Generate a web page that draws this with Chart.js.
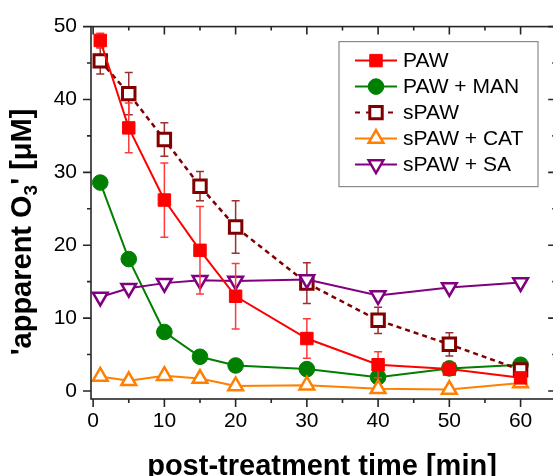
<!DOCTYPE html>
<html>
<head>
<meta charset="utf-8">
<script src="https://cdn.jsdelivr.net/npm/chart.js@4"></script>
<style>
html,body{margin:0;padding:0;background:#fff;overflow:hidden;}
canvas{display:block;}
</style>
</head>
<body>
<canvas id="c" width="568" height="476"></canvas>
<script>
// ---- data ----
const times   = [1, 5, 10, 15, 20, 30, 40, 50, 60];
const paw     = [48.1, 36.1, 26.2, 19.3, 13.0, 7.2, 3.6, 3.0, 1.8];
const pawErr  = [1.0, 3.4, 5.1, 6.0, 4.5, 2.7, 1.8, 0.5, 0.7];
const pawMan  = [28.6, 18.1, 8.1, 4.7, 3.5, 3.0, 1.9, 3.1, 3.6];
const spaw    = [45.3, 40.8, 34.5, 28.1, 22.5, 14.8, 9.7, 6.4, 2.9];
const spawErr = [1.8, 2.9, 2.3, 2.0, 3.6, 2.8, 1.8, 1.6, 0.6];
const spawCat = [2.0, 1.4, 2.1, 1.7, 0.7, 0.8, 0.3, 0.2, 1.1];
const spawSa  = [12.9, 14.1, 14.8, 15.2, 15.1, 15.3, 13.1, 14.2, 14.9];

const xTicks = [0, 10, 20, 30, 40, 50, 60];
const yTicks = [0, 10, 20, 30, 40, 50];

const FONT = "'Liberation Sans', Arial, sans-serif";

const pts = arr => times.map((t,i)=>({x:t, y:arr[i]}));

// error bars per dataset index
const errBars = {
    0: {values: pawErr, color: '#ff3a3a'},
    2: {values: spawErr, color: '#9c3030'}
};

function marker(ctx, style, x, y, r, rot){
    ctx.beginPath();
    if(style==='rect'){
        const s = r*Math.SQRT1_2;
        ctx.rect(x-s, y-s, 2*s, 2*s);
    } else if(style==='circle'){
        ctx.arc(x, y, r, 0, Math.PI*2);
    } else {
        let a = (rot||0)*Math.PI/180;
        for(let k=0;k<3;k++){
            const px = x + Math.sin(a)*r, py = y - Math.cos(a)*r;
            k ? ctx.lineTo(px,py) : ctx.moveTo(px,py);
            a += Math.PI*2/3;
        }
        ctx.closePath();
    }
}

const decor = {
    id: 'decor',
    beforeDatasetDraw(chart, args){
        const eb = errBars[args.index];
        if(!eb) return;
        const ds = chart.data.datasets[args.index];
        const xs = chart.scales.x, ys = chart.scales.y, ctx = chart.ctx;
        ctx.save();
        ctx.strokeStyle = eb.color;
        ctx.lineWidth = 1.5;
        ds.data.forEach((p,i)=>{
            const px = xs.getPixelForValue(p.x);
            const top = ys.getPixelForValue(p.y + eb.values[i]);
            const bot = ys.getPixelForValue(p.y - eb.values[i]);
            ctx.beginPath();
            ctx.moveTo(px, top); ctx.lineTo(px, bot);
            ctx.moveTo(px-4, top); ctx.lineTo(px+4, top);
            ctx.moveTo(px-4, bot); ctx.lineTo(px+4, bot);
            ctx.stroke();
        });
        ctx.restore();
    },
    afterDraw(chart){
        const ctx = chart.ctx, ca = chart.chartArea;
        const xs = chart.scales.x, ys = chart.scales.y;
        ctx.save();
        // frame
        ctx.strokeStyle = '#262626';
        ctx.lineWidth = 1.6;
        ctx.strokeRect(ca.left, ca.top, ca.right-ca.left, ca.bottom-ca.top);
        // ticks: out on left/bottom, in on top/right
        ctx.beginPath();
        const xMinor = xTicks.slice(0,-1).map(v=>v+5);
        const yMinor = yTicks.slice(0,-1).map(v=>v+5);
        const xt = (v,len)=>{
            const px = xs.getPixelForValue(v);
            ctx.moveTo(px, ca.bottom); ctx.lineTo(px, ca.bottom+len);
            ctx.moveTo(px, ca.top); ctx.lineTo(px, ca.top+len);
        };
        const yt = (v,len)=>{
            const py = ys.getPixelForValue(v);
            ctx.moveTo(ca.left, py); ctx.lineTo(ca.left-len, py);
            ctx.moveTo(ca.right, py); ctx.lineTo(ca.right-len, py);
        };
        xTicks.forEach(v=>xt(v,8)); xMinor.forEach(v=>xt(v,4));
        yTicks.forEach(v=>yt(v,8)); yMinor.forEach(v=>yt(v,4));
        ctx.stroke();

        // legend
        const lx = 339, ly = ca.top+15;
        ctx.fillStyle = '#fff';
        ctx.fillRect(lx, ly, 199, 145);
        ctx.strokeStyle = '#8a8a8a';
        ctx.lineWidth = 1.2;
        ctx.strokeRect(lx, ly, 199, 145);
        chart.data.datasets.forEach((ds,i)=>{
            const y = ly + 19 + i*26;
            ctx.strokeStyle = ds.borderColor;
            ctx.lineWidth = 2;
            ctx.setLineDash(ds.borderDash ? [5,6] : []);
            ctx.beginPath(); ctx.moveTo(lx+16, y); ctx.lineTo(lx+58, y); ctx.stroke();
            ctx.setLineDash([]);
            marker(ctx, ds.pointStyle, lx+37, y, ds.pointRadius, ds.pointRotation);
            ctx.fillStyle = ds.pointBackgroundColor;
            ctx.fill();
            ctx.lineWidth = ds.pointBorderWidth;
            ctx.stroke();
            ctx.fillStyle = '#000';
            ctx.font = '21px ' + FONT;
            ctx.textAlign = 'left';
            ctx.textBaseline = 'middle';
            ctx.fillText(ds.label, lx+64, y+1);
        });

        // axis titles
        ctx.fillStyle = '#000';
        ctx.textBaseline = 'alphabetic';
        ctx.textAlign = 'left';
        ctx.font = 'bold 29px ' + FONT;
        const xt1 = 'post-treatment time [min]';
        ctx.fillText(xt1, 322 - ctx.measureText(xt1).width/2, 475);

        ctx.translate(31, 232);
        ctx.rotate(-Math.PI/2);
        const big = 'bold 29px ' + FONT, small = 'bold 19px ' + FONT;
        const a = "'apparent O", b = '3', c = "' [\u03bcM]";
        ctx.font = big; const wa = ctx.measureText(a).width, wc = ctx.measureText(c).width;
        ctx.font = small; const wb = ctx.measureText(b).width;
        let x0 = -(wa+wb+wc)/2;
        ctx.font = big; ctx.fillText(a, x0, 0);
        ctx.font = small; ctx.fillText(b, x0+wa, 6);
        ctx.font = big; ctx.fillText(c, x0+wa+wb, 0);
        ctx.restore();
    }
};

new Chart(document.getElementById('c'), {
    type: 'line',
    data: {
        datasets: [
            {label:'PAW', data:pts(paw), borderColor:'#ff0000', backgroundColor:'#ff0000',
             pointBackgroundColor:'#ff0000', pointStyle:'rect', pointRadius:8.8, pointBorderWidth:1, borderWidth:2, order:0},
            {label:'PAW + MAN', data:pts(pawMan), borderColor:'#008000', backgroundColor:'#008000',
             pointBackgroundColor:'#008000', pointStyle:'circle', pointRadius:7.8, pointBorderWidth:1, borderWidth:2, order:4},
            {label:'sPAW', data:pts(spaw), borderColor:'#800000', backgroundColor:'#fff', borderDash:[5,4],
             pointBackgroundColor:'#fff', pointStyle:'rect', pointRadius:8.8, pointBorderWidth:3, borderWidth:2.5, order:3},
            {label:'sPAW + CAT', data:pts(spawCat), borderColor:'#ff8000', backgroundColor:'#fff',
             pointBackgroundColor:'#fff', pointStyle:'triangle', pointRadius:8.5, pointBorderWidth:2.5, borderWidth:2, order:2},
            {label:'sPAW + SA', data:pts(spawSa), borderColor:'#800080', backgroundColor:'#fff',
             pointBackgroundColor:'#fff', pointStyle:'triangle', pointRotation:180, pointRadius:8.5, pointBorderWidth:2.5, borderWidth:2, order:1}
        ]
    },
    options: {
        responsive: false,
        animation: false,
        devicePixelRatio: 1,
        layout: {padding: {left:0, top:25, right:3, bottom:0}},
        plugins: {legend:{display:false}, tooltip:{enabled:false}},
        elements: {line:{tension:0}},
        scales: {
            x: {
                type: 'linear', min: -0.3, max: 65,
                grid: {display:false, drawTicks:false},
                border: {display:false},
                afterBuildTicks: s => { s.ticks = xTicks.map(v=>({value:v})); },
                afterFit: s => { s.height = 77; },
                ticks: {color:'#000', font:{family:FONT, size:21}, padding:10, maxRotation:0}
            },
            y: {
                type: 'linear', min: -1.1, max: 50,
                grid: {display:false, drawTicks:false},
                border: {display:false},
                afterBuildTicks: s => { s.ticks = yTicks.map(v=>({value:v})); },
                afterFit: s => { s.width = 91; },
                ticks: {color:'#000', font:{family:FONT, size:21}, padding:14}
            }
        }
    },
    plugins: [decor]
});
</script>
</body>
</html>
